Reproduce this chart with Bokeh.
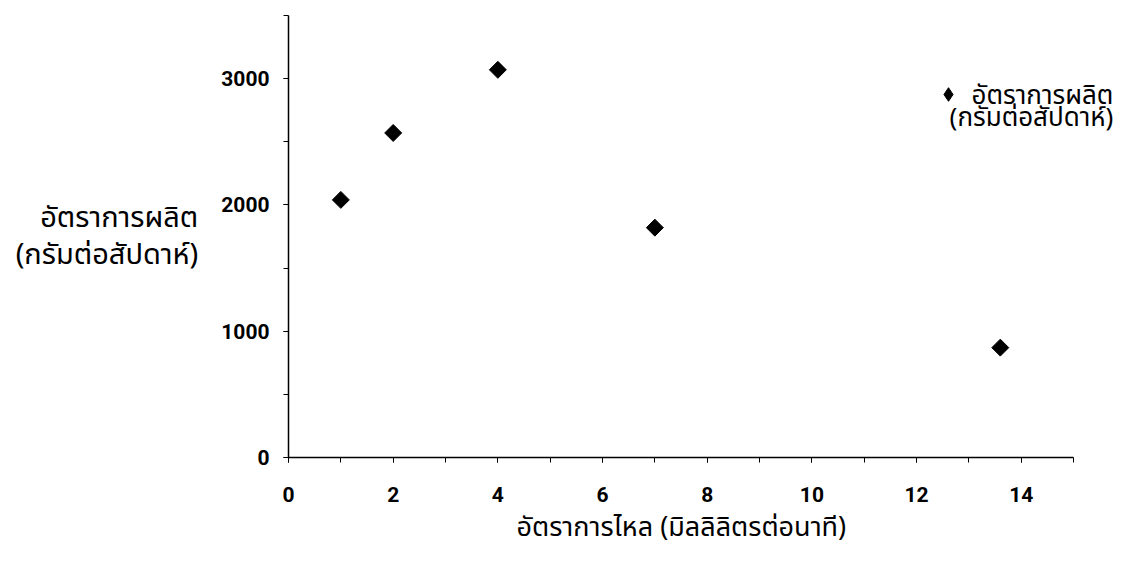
import math
from bokeh.plotting import figure
from bokeh.models import Range1d, SingleIntervalTicker, Legend, LegendItem, Label, Title
from bokeh.embed import file_html
from bokeh.resources import INLINE

# Data
flow_rate = [1, 2, 4, 7, 13.6]              # มิลลิลิตรต่อนาที
production = [2040, 2570, 3070, 1820, 870]  # กรัมต่อสัปดาห์
series_lines = ["อัตราการผลิต", "(กรัมต่อสัปดาห์)"]
x_title = "อัตราการไหล (มิลลิลิตรต่อนาที)"
y_title = "อัตราการผลิต\n(กรัมต่อสัปดาห์)"

THAI = "Noto Sans Thai, Noto Sans, sans-serif"

# frame runs a little past 15 so the legend text is not clipped; axis stops at 15
p = figure(width=1116, height=551, output_backend="svg", toolbar_location=None,
           x_range=Range1d(0, 15.82), y_range=Range1d(0, 3500),
           min_border_left=288, min_border_right=0, min_border_top=15,
           min_border_bottom=94)
p.outline_line_color = None
p.xgrid.visible = False
p.ygrid.visible = False

# diamond-marker copy of the series (hidden under the rotated squares) used as legend swatch,
# because the legend draws markers unrotated
r_leg = p.scatter(flow_rate, production, marker="diamond", size=12,
                  fill_color="black", line_color="black")
r = p.scatter(flow_rate, production, marker="square", angle=math.pi / 4, size=12,
              fill_color="black", line_color="black")

for ax in (p.xaxis[0], p.yaxis[0]):
    ax.axis_line_color = "black"
    ax.axis_line_width = 1.5
    ax.major_tick_line_color = "black"
    ax.minor_tick_line_color = "black"
    ax.major_tick_in = 0
    ax.major_tick_out = 5
    ax.minor_tick_in = 0
    ax.minor_tick_out = 5
    ax.major_label_text_font = "Roboto"
    ax.major_label_text_font_style = "bold"
    ax.major_label_text_font_size = "21px"
    ax.major_label_text_color = "black"

p.xaxis.bounds = (0, 15)
p.xaxis.ticker = SingleIntervalTicker(interval=2, num_minor_ticks=2)
p.yaxis.ticker = SingleIntervalTicker(interval=1000, num_minor_ticks=2)
p.xaxis.major_label_standoff = 24
p.yaxis.major_label_standoff = 14

# x-axis title as a Title below, shifted so it is centred under the 0..15 axis
p.add_layout(Title(text=x_title, align="left", offset=228, standoff=0,
                   text_font=THAI, text_font_style="normal",
                   text_font_size="27px", text_color="black"), "below")

p.yaxis.axis_label = y_title
p.yaxis.axis_label_orientation = "horizontal"
p.yaxis.axis_label_text_align = "center"
p.yaxis.axis_label_text_line_height = 0.85
p.yaxis.axis_label_text_font = THAI
p.yaxis.axis_label_text_font_style = "normal"
p.yaxis.axis_label_text_font_size = "29px"
p.yaxis.axis_label_text_color = "black"
p.yaxis.axis_label_standoff = 20

# legend: marker via Legend, text as right-aligned labels
legend = Legend(items=[LegendItem(label=" ", renderers=[r_leg])],
                location=(643, 346), border_line_color=None,
                background_fill_alpha=0, label_text_font_size="4px",
                glyph_width=34, glyph_height=34, label_standoff=0,
                padding=0, margin=0, spacing=0)
p.add_layout(legend)
for txt, yy in zip(series_lines, [2866, 2690]):
    p.add_layout(Label(x=15.76, y=yy, text=txt, text_align="right",
                       text_baseline="middle", text_font=THAI,
                       text_font_size="26px", text_color="black"))

open("out.html", "w").write(file_html(p, INLINE))
